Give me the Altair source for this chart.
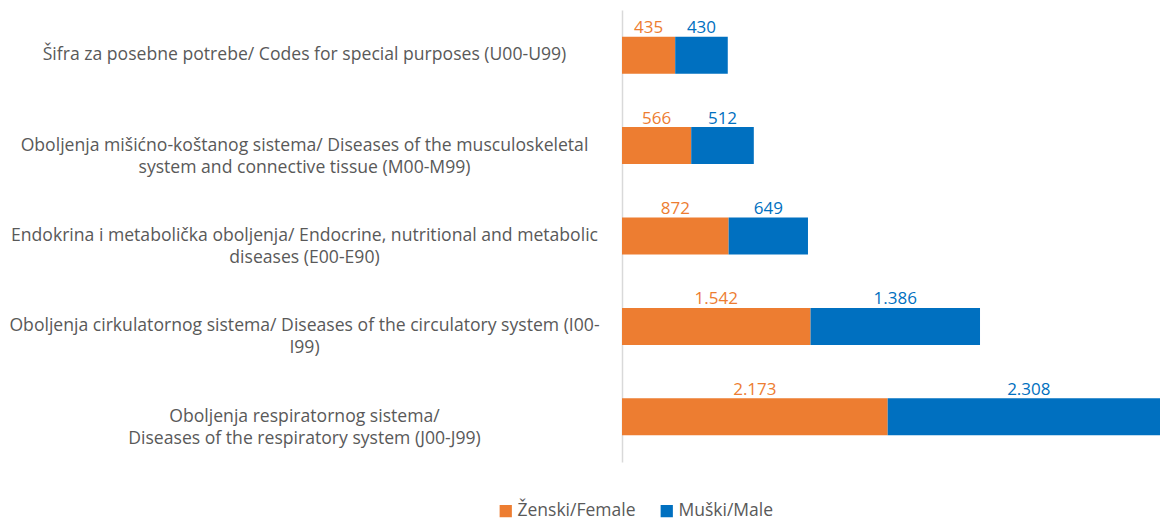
import altair as alt
import pandas as pd

categories = [
    "Šifra za posebne potrebe/ Codes for special purposes (U00-U99)",
    "Oboljenja mišićno-koštanog sistema/ Diseases of the musculoskeletal\nsystem and connective tissue (M00-M99)",
    "Endokrina i metabolička oboljenja/ Endocrine, nutritional and metabolic\ndiseases (E00-E90)",
    "Oboljenja cirkulatornog sistema/ Diseases of the circulatory system (I00-\nI99)",
    "Oboljenja respiratornog sistema/\nDiseases of the respiratory system (J00-J99)",
]
series = ["Ženski/Female", "Muški/Male"]
female = [435, 566, 872, 1542, 2173]
male = [430, 512, 649, 1386, 2308]
colors = ["#ED7D31", "#0070C0"]

rows = []
for i, c in enumerate(categories):
    rows.append({"category": c, "series": series[0], "value": female[i], "order": 0})
    rows.append({"category": c, "series": series[1], "value": male[i], "order": 1})
df = pd.DataFrame(rows)

FONT = "Open Sans"
GRAY = "#595959"

base = alt.Chart(df).transform_stack(
    stack="value", groupby=["category"], as_=["v0", "v1"],
    sort=[alt.SortField("order", order="ascending")],
).transform_calculate(
    mid="(datum.v0 + datum.v1) / 2",
    label="replace(format(datum.value, ','), ',', '.')",
)

yenc = alt.Y(
    "category:N", sort=categories, title=None,
    scale=alt.Scale(paddingInner=0, paddingOuter=0),
    axis=alt.Axis(
        labelExpr="split(datum.label, '\\n')",
        labelAlign="center", labelPadding=318, labelLineHeight=22,
        labelFont=FONT, labelFontSize=17.6, labelColor=GRAY, labelLimit=0,
        ticks=False, domain=True, domainColor="#D9D9D9", domainWidth=1.5,
        grid=False,
    ),
)
xscale = alt.Scale(domain=[0, 4400], nice=False, zero=True)
colenc = alt.Color(
    "series:N", sort=series,
    scale=alt.Scale(domain=series, range=colors),
    legend=alt.Legend(
        title=None, orient="none", legendX=-125, legendY=492,
        direction="horizontal", symbolType="square", symbolSize=150,
        symbolStrokeWidth=0, labelFont=FONT, labelFontSize=17.5,
        labelColor=GRAY, labelOffset=3, columnPadding=22, labelLimit=0,
    ),
)

bars = base.mark_bar(size=37, clip=True).encode(
    x=alt.X("v0:Q", scale=xscale, axis=None),
    x2="v1:Q",
    y=yenc,
    color=colenc,
)

texts = base.mark_text(
    baseline="bottom", dy=-18, font=FONT, fontSize=17
).encode(
    x=alt.X("mid:Q", scale=xscale, axis=None),
    y=alt.Y("category:N", sort=categories),
    text="label:N",
    color=alt.Color("series:N", sort=series, scale=alt.Scale(domain=series, range=colors), legend=None),
)

chart = alt.layer(bars, texts).properties(
    width=538, height=452,
    padding={"left": 0, "right": 0, "top": 2, "bottom": 2},
).configure(background="white").configure_view(stroke=None)

chart.save("out.html", embed_options={"renderer": "svg", "actions": False})
